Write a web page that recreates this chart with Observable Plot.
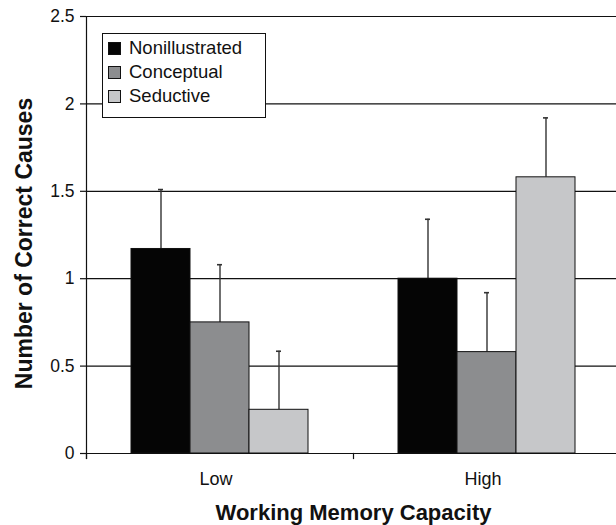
<!DOCTYPE html>
<html>
<head>
<meta charset="utf-8">
<script src="https://cdn.jsdelivr.net/npm/d3@7"></script>
<script src="https://cdn.jsdelivr.net/npm/@observablehq/plot@0.6"></script>
<style>
  html, body { margin: 0; padding: 0; background: #fff; }
  #wrap { position: relative; width: 616px; height: 525px; overflow: hidden; font-family: "Liberation Sans", Arial, Helvetica, sans-serif; }
  #legend { position: absolute; left: 102px; top: 33px; width: 162px; height: 81px; border: 1px solid #111; background: #fff; padding-top: 2px; box-sizing: content-box; }
  .row { display: flex; align-items: center; height: 24px; font-size: 18.5px; color: #111; }
  .sw { width: 11px; height: 11px; border: 1px solid #111; margin-left: 5px; margin-right: 8px; flex: none; }
</style>
</head>
<body>
<div id="wrap"></div>
<script>
const groups = ["Low", "High"];
const series = ["Nonillustrated", "Conceptual", "Seductive"];
const lowMeans = [1.17, 0.75, 0.25];
const highMeans = [1.00, 0.58, 1.58];
const lowUpper = [1.51, 1.08, 0.585];
const highUpper = [1.34, 0.92, 1.92];
const yTicks = [0, 0.5, 1, 1.5, 2, 2.5];
const colors = ["#050505", "#8c8d8f", "#c6c7c9"];
const yTitle = "Number of Correct Causes";
const xTitle = "Working Memory Capacity";

const means = [lowMeans, highMeans];
const uppers = [lowUpper, highUpper];
const data = [];
groups.forEach((g, i) => series.forEach((s, j) => data.push({group: g, series: s, mean: means[i][j], upper: uppers[i][j]})));

const font = '"Liberation Sans", Arial, Helvetica, sans-serif';
const chart = Plot.plot({
  width: 616,
  height: 525,
  marginLeft: 86,
  marginRight: -4,
  marginTop: 16,
  marginBottom: 72,
  style: {fontFamily: font, fontSize: "17.5px", color: "#111", background: "#fff", overflow: "hidden"},
  fx: {domain: groups, padding: 0, label: null},
  x: {domain: series, paddingInner: 0, paddingOuter: 0.73, axis: null},
  y: {domain: [0, 2.5], label: null},
  color: {domain: series, range: colors},
  marks: [
    Plot.gridY(yTicks, {stroke: "#111", strokeOpacity: 1, strokeWidth: 1.2}),
    Plot.axisY(yTicks, {tickSize: 6, tickPadding: 6, label: null, tickFormat: d => String(d), fontSize: 17.5, stroke: "#111", strokeWidth: 1.2}),
    Plot.axisFx({anchor: "bottom", tickSize: 0, tickPadding: 19, label: null, fontSize: 18, dx: -4}),
    Plot.frame({anchor: "left", facetAnchor: "left", insetBottom: -5, stroke: "#111", strokeWidth: 1.2}),
    Plot.frame({anchor: "left", insetTop: 437, insetBottom: -5, stroke: "#111", strokeWidth: 1.2}),
    Plot.ruleY([0], {stroke: "#111", strokeWidth: 1.2}),
    Plot.ruleX(data, {fx: "group", x: "series", y1: "mean", y2: "upper", stroke: "#333", strokeWidth: 1.4}),
    Plot.tickY(data, {fx: "group", x: "series", y: "upper", insetLeft: 27, insetRight: 27, stroke: "#333", strokeWidth: 1.6}),
    Plot.barY(data, {fx: "group", x: "series", y: "mean", fill: "series", stroke: "#111", strokeWidth: 1}),
    Plot.text([yTitle], {facetAnchor: "left", frameAnchor: "left", textAnchor: "middle", rotate: -90, dx: -62, dy: 8.5, fontSize: 23, fontWeight: "bold", fill: "#111", lineAnchor: "middle"}),
    Plot.text([xTitle], {facet: "super", frameAnchor: "bottom", dx: 0, dy: 59, fontSize: 22, fontWeight: "bold", fill: "#111", lineAnchor: "middle"})
  ]
});
const wrap = document.getElementById("wrap");
wrap.appendChild(chart);

const legend = document.createElement("div");
legend.id = "legend";
series.forEach((s, j) => {
  const row = document.createElement("div");
  row.className = "row";
  const sw = document.createElement("span");
  sw.className = "sw";
  sw.style.background = colors[j];
  const t = document.createElement("span");
  t.textContent = s;
  row.appendChild(sw);
  row.appendChild(t);
  legend.appendChild(row);
});
wrap.appendChild(legend);
</script>
</body>
</html>
